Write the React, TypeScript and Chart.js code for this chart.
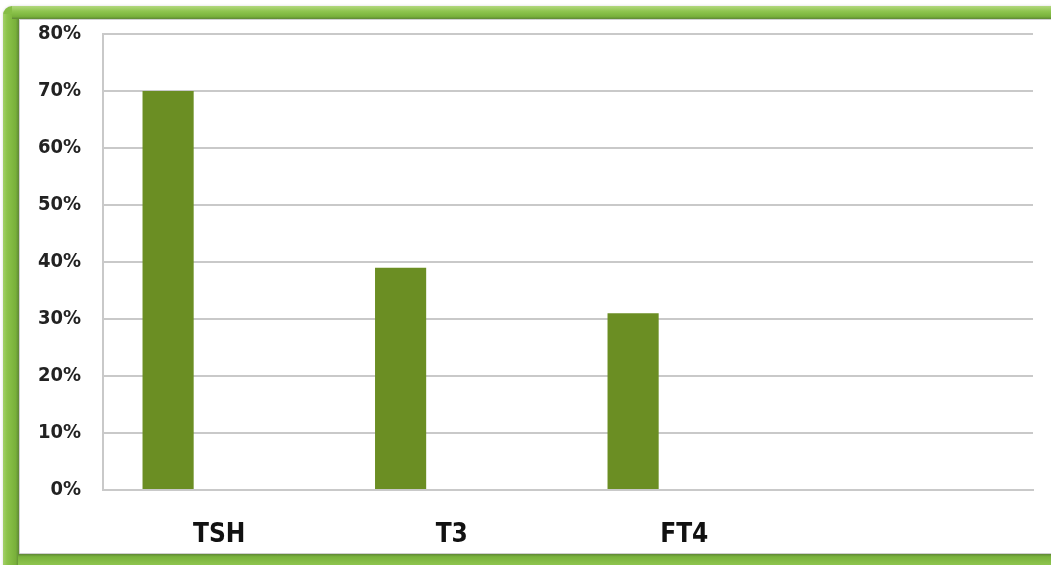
import React, { useEffect, useRef } from "react";
import { Chart, registerables } from "chart.js";

Chart.register(...registerables);

// Thyroid test categories and the share of positive results (%)
const categories: string[] = ["TSH", "T3", "FT4", ""];
const positiveShare: (number | null)[] = [70, 39, 31, null];
// Two further series in the workbook carry no values; they keep the bar slots
const seriesB: (number | null)[] = [null, null, null, null];
const seriesC: (number | null)[] = [null, null, null, null];
const yTicks: number[] = [0, 10, 20, 30, 40, 50, 60, 70, 80];

const BAR_GREEN = "#6b8e23";
const GRID_GRAY = "#c9c9c9";
const FONT = "'DejaVu Sans Condensed', 'Liberation Sans', Arial, sans-serif";

// Draws the white card with its green frame behind the chart
const framePlugin = {
  id: "greenFrame",
  beforeDraw(chart: Chart) {
    const { ctx, width, height } = chart;
    ctx.save();
    ctx.fillStyle = "#ffffff";
    ctx.fillRect(0, 0, width, height);

    // outer green frame with a faint shadow
    ctx.shadowColor = "rgba(0,0,0,0.15)";
    ctx.shadowBlur = 3;
    ctx.fillStyle = "#86bd45";
    ctx.beginPath();
    (ctx as any).roundRect(3, 6, width + 20, height + 20, 9);
    ctx.fill();
    ctx.shadowBlur = 0;
    ctx.shadowColor = "transparent";

    // left band shading
    const gLeft = ctx.createLinearGradient(3, 0, 19, 0);
    gLeft.addColorStop(0, "#a3d069");
    gLeft.addColorStop(0.25, "#8cc34a");
    gLeft.addColorStop(0.8, "#78b03a");
    gLeft.addColorStop(1, "#5e8735");
    ctx.fillStyle = gLeft;
    ctx.fillRect(3, 14, 16, height);

    // top band shading
    const gTop = ctx.createLinearGradient(0, 6, 0, 19);
    gTop.addColorStop(0, "#b2d77e");
    gTop.addColorStop(0.4, "#8fc54f");
    gTop.addColorStop(0.8, "#79b23b");
    gTop.addColorStop(1, "#5e8735");
    ctx.fillStyle = gTop;
    ctx.fillRect(12, 6, width, 13);

    // bottom band shading
    const gBot = ctx.createLinearGradient(0, 554, 0, height);
    gBot.addColorStop(0, "#5e8735");
    gBot.addColorStop(0.25, "#79b23b");
    gBot.addColorStop(1, "#8fc54f");
    ctx.fillStyle = gBot;
    ctx.fillRect(18, 554, width, height - 554);

    // inner white panel
    ctx.fillStyle = "#ffffff";
    ctx.fillRect(19, 19, width - 19, 535);
    ctx.strokeStyle = "rgba(120,120,120,0.35)";
    ctx.lineWidth = 1;
    ctx.beginPath();
    ctx.moveTo(19.5, 554);
    ctx.lineTo(19.5, 19.5);
    ctx.lineTo(width, 19.5);
    ctx.moveTo(19.5, 553.5);
    ctx.lineTo(width, 553.5);
    ctx.stroke();
    ctx.restore();
  },
};

export default function App() {
  const canvasRef = useRef<HTMLCanvasElement | null>(null);

  useEffect(() => {
    document.body.style.margin = "0";
    const canvas = canvasRef.current;
    if (!canvas) return;

    const chart = new Chart(canvas, {
      type: "bar",
      data: {
        labels: categories,
        datasets: [
          { label: "Positive", data: positiveShare, backgroundColor: BAR_GREEN, borderWidth: 0 },
          { label: "B", data: seriesB, backgroundColor: BAR_GREEN, borderWidth: 0 },
          { label: "C", data: seriesC, backgroundColor: BAR_GREEN, borderWidth: 0 },
        ],
      },
      options: {
        responsive: false,
        animation: false,
        devicePixelRatio: 1,
        layout: { padding: { top: 33, right: 18, left: 0, bottom: 0 } },
        datasets: { bar: { categoryPercentage: 0.66, barPercentage: 1.0 } },
        plugins: {
          legend: { display: false },
          tooltip: { enabled: false },
        },
        scales: {
          x: {
            grid: { display: false, drawTicks: false },
            border: { display: true, color: GRID_GRAY, width: 2 },
            ticks: {
              color: "#111111",
              padding: 30,
              font: { family: FONT, size: 26, weight: "bold" },
              maxRotation: 0,
              autoSkip: false,
            },
            afterFit(scale: any) {
              scale.height = 75;
            },
          },
          y: {
            min: 0,
            max: 80,
            afterBuildTicks(scale: any) {
              scale.ticks = yTicks.map((v) => ({ value: v }));
            },
            grid: { color: GRID_GRAY, lineWidth: 2, drawTicks: false },
            border: { display: true, color: GRID_GRAY, width: 2 },
            ticks: {
              color: "#222222",
              padding: 22,
              font: { family: FONT, size: 20, weight: "bold" },
              callback: (v: any) => `${v}%`,
            },
            afterFit(scale: any) {
              scale.width = 103;
            },
          },
        },
      },
      plugins: [framePlugin],
    });

    return () => chart.destroy();
  }, []);

  return (
    <div style={{ width: 1051, height: 565, margin: 0 }}>
      <canvas ref={canvasRef} width={1051} height={565} style={{ display: "block" }} />
    </div>
  );
}
